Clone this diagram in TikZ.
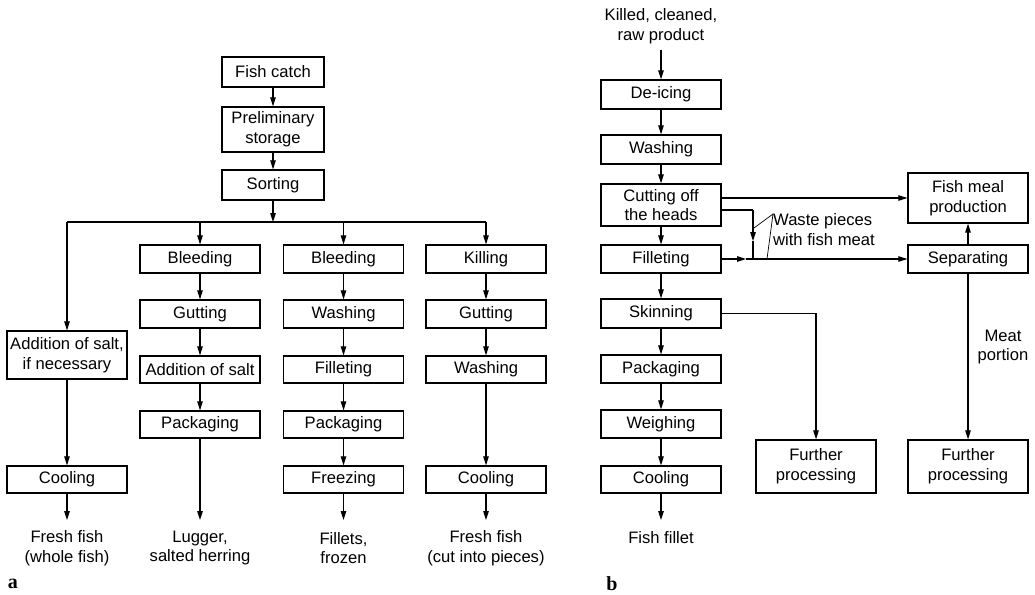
\documentclass[tikz,border=0pt]{standalone}
\usepackage{fontspec}
\setmainfont{Liberation Sans}
\newfontfamily\serifb{Liberation Serif}
\usetikzlibrary{arrows.meta,calc}
\begin{document}
\begin{tikzpicture}[x=1pt,y=-1pt,
 every node/.style={font=\fontsize{16.6}{19.8}\selectfont},
 box/.style={draw, line width=1.2pt, minimum width=120pt, minimum height=28pt, inner sep=0pt, align=center},
 txt/.style={align=center, inner sep=0pt},
 arr/.style={line width=1.1pt, -{Triangle[length=9pt,width=5.5pt]}},
 ln/.style={line width=1.1pt},
 lead/.style={line width=0.7pt},
 panel/.style={font=\serifb\bfseries\fontsize{20}{20}\selectfont, inner sep=0pt}]
\useasboundingbox (0,0) rectangle (1035,594);
% ---------------- panel a ----------------
\node[box, minimum width=102pt, minimum height=30pt] (fc) at (273,72) {Fish catch};
\node[box, minimum width=102pt, minimum height=45pt] (ps) at (273,129.5) {Preliminary\\storage};
\node[box, minimum width=102pt, minimum height=30pt] (so) at (273,185) {Sorting};
\coordinate (hm) at (273,222);
% column 1
\node[box, minimum height=48pt] (a1) at (67,355) {Addition of salt,\\if necessary};
\node[box, minimum height=27pt] (a2) at (67,479.5) {Cooling};
\coordinate (a3t) at (67,520);
\node[txt] (a3) at (67,548) {Fresh fish\\(whole fish)};
% column 2
\node[box] (b1) at (200,259) {Bleeding};
\node[box] (b2) at (200,314) {Gutting};
\node[box, minimum height=27pt] (b3) at (200,369.5) {Addition of salt};
\node[box, minimum height=27pt] (b4) at (200,424.5) {Packaging};
\coordinate (b5t) at (200,520);
\node[txt] (b5) at (200,548) {Lugger,\\salted herring};
% column 3
\node[box] (c1) at (343.5,259) {Bleeding};
\node[box] (c2) at (343.5,314) {Washing};
\node[box, minimum height=27pt] (c3) at (343.5,369.5) {Filleting};
\node[box, minimum height=27pt] (c4) at (343.5,424.5) {Packaging};
\node[box, minimum height=27pt] (c5) at (343.5,479.5) {Freezing};
\coordinate (c6t) at (343.5,520);
\node[txt] (c6) at (343.5,548) {Fillets,\\frozen};
% column 4
\node[box] (d1) at (486,259) {Killing};
\node[box] (d2) at (486,314) {Gutting};
\node[box, minimum height=27pt] (d3) at (486,369.5) {Washing};
\node[box, minimum height=27pt] (d4) at (486,479.5) {Cooling};
\coordinate (d5t) at (486,520);
\node[txt] (d5) at (486,548) {Fresh fish\\(cut into pieces)};
\node[panel] (la) at (13,584) {a};
% connectors a
\draw[arr] (fc) -- (ps);
\draw[arr] (ps) -- (so);
\draw[arr] (so) -- (hm);
\draw[ln] (a1.north |- hm) -- (d1.north |- hm);
\draw[arr] (a1.north |- hm) -- (a1);
\draw[arr] (b1.north |- hm) -- (b1);
\draw[arr] (c1.north |- hm) -- (c1);
\draw[arr] (d1.north |- hm) -- (d1);
\draw[arr] (a1) -- (a2);
\draw[arr] (a2) -- (a3t);
\draw[arr] (b1) -- (b2);
\draw[arr] (b2) -- (b3);
\draw[arr] (b3) -- (b4);
\draw[arr] (b4) -- (b5t);
\draw[arr] (c1) -- (c2);
\draw[arr] (c2) -- (c3);
\draw[arr] (c3) -- (c4);
\draw[arr] (c4) -- (c5);
\draw[arr] (c5) -- (c6t);
\draw[arr] (d1) -- (d2);
\draw[arr] (d2) -- (d3);
\draw[arr] (d3) -- (d4);
\draw[arr] (d4) -- (d5t);
% ---------------- panel b ----------------
\node[txt] (kc) at (661,26) {Killed, cleaned,\\raw product};
\coordinate (kct) at (661,50);
\node[box, minimum height=29pt] (di) at (661,94.5) {De-icing};
\node[box, minimum height=29pt] (wa) at (661,149.5) {Washing};
\node[box, minimum height=42pt] (cu) at (661,205) {Cutting off\\the heads};
\node[box] (fi) at (661,259) {Filleting};
\node[box, minimum height=29pt] (sk) at (661,313.5) {Skinning};
\node[box] (pa) at (661,369) {Packaging};
\node[box] (we) at (661,424) {Weighing};
\node[box, minimum height=27pt] (co) at (661,479.5) {Cooling};
\coordinate (fft) at (661,520);
\node[txt] (ff) at (661,538) {Fish fillet};
\node[box, minimum height=50pt] (fm) at (968,198) {Fish meal\\production};
\node[box] (se) at (968,259) {Separating};
\node[box, minimum height=53pt] (fp1) at (816,466.5) {Further\\processing};
\node[box, minimum height=53pt] (fp2) at (968,466.5) {Further\\processing};
\node[txt] (mp) at (1003,347) {Meat\\portion};
\node[txt, align=left, anchor=west] (wp) at (773,229.5) {Waste pieces\\with fish meat};
\node[panel] (lb) at (612,584) {b};
\coordinate (vt) at (753,210);
\coordinate (vm) at (753,241);
\coordinate (vb) at (753,259);
\coordinate (hmid) at (746,259);
\coordinate (wl) at (773,214);
% connectors b
\draw[arr] (kct) -- (di);
\draw[arr] (di) -- (wa);
\draw[arr] (wa) -- (cu);
\draw[arr] (cu) -- (fi);
\draw[arr] (fi) -- (sk);
\draw[arr] (sk) -- (pa);
\draw[arr] (pa) -- (we);
\draw[arr] (we) -- (co);
\draw[arr] (co) -- (fft);
\draw[arr] (cu.east |- fm) -- (fm.west);
\draw[ln] (cu.east |- vt) -- (vt);
\draw[arr] (vt) -- (vm);
\draw[ln] (vm) -- (vb);
\draw[arr] (fi.east) -- (hmid);
\draw[arr] (hmid) -- (se.west);
\draw[arr] (se) -- (fm);
\draw[arr] (se) -- (fp2);
\draw[arr] (sk.east) -| (fp1.north);
\draw[lead] (wl) -- (754,228);
\draw[lead] (wl) -- (767,259);
\end{tikzpicture}
\end{document}
